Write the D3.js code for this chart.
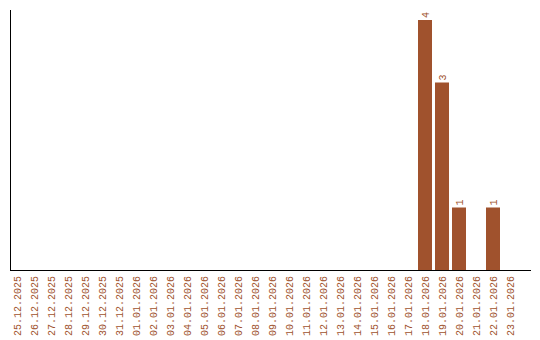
<!DOCTYPE html>
<html>
<head>
<meta charset="utf-8">
<script src="https://cdn.jsdelivr.net/npm/d3@7"></script>
<style>
  body { margin: 0; background: #fff; }
  text { font-family: "Liberation Mono", monospace; }
</style>
</head>
<body>
<div id="chart"></div>
<script>
// dates shown on the x axis
var days = ["25.12.2025","26.12.2025","27.12.2025","28.12.2025","29.12.2025","30.12.2025","31.12.2025",
  "01.01.2026","02.01.2026","03.01.2026","04.01.2026","05.01.2026","06.01.2026","07.01.2026","08.01.2026",
  "09.01.2026","10.01.2026","11.01.2026","12.01.2026","13.01.2026","14.01.2026","15.01.2026","16.01.2026",
  "17.01.2026","18.01.2026","19.01.2026","20.01.2026","21.01.2026","22.01.2026","23.01.2026"];
// count per day
var counts = [0,0,0,0,0,0,0,0,0,0,0,0,0,0,0,0,0,0,0,0,0,0,0,0,4,3,1,0,1,0];

var width = 540, height = 340;
var marginLeft = 10, plotTop = 20, base = 270;
var color = "#a0522d";

var data = days.map(function(d, i) { return {day: d, n: counts[i]}; });

var svg = d3.select("#chart")
  .append("svg")
    .attr("width", width)
    .attr("height", height);

var x = d3.scaleBand()
  .domain(days)
  .range([marginLeft, 517])
  .paddingInner(3 / 17)
  .paddingOuter(0);

var y = d3.scaleLinear()
  .domain([0, 4])
  .range([base, plotTop]);

var nonZero = data.filter(function(d) { return d.n > 0; });

// bars
svg.selectAll(".bar")
  .data(nonZero)
  .enter()
  .append("rect")
    .attr("class", "bar")
    .attr("x", function(d) { return x(d.day); })
    .attr("y", function(d) { return y(d.n); })
    .attr("width", x.bandwidth())
    .attr("height", function(d) { return base - y(d.n); })
    .style("fill", color);

// value labels, rotated
svg.selectAll(".val")
  .data(nonZero)
  .enter()
  .append("text")
    .attr("class", "val")
    .attr("transform", function(d) {
      return "translate(" + (x(d.day) + x.bandwidth() / 2 + 3.5) + "," + (y(d.n) - 2) + ") rotate(-90)";
    })
    .style("font-size", "10px")
    .style("fill", color)
    .text(function(d) { return d.n; });

// x axis labels
svg.append("g")
  .attr("transform", "translate(0," + base + ")")
  .call(d3.axisBottom(x).tickSize(0).tickPadding(0))
  .call(function(g) { g.select(".domain").remove(); })
  .selectAll("text")
    .attr("transform", "rotate(-90)")
    .attr("x", -6)
    .attr("y", 0)
    .attr("dy", "0.35em")
    .style("text-anchor", "end")
    .style("font-size", "10px")
    .style("font-family", "Liberation Mono, monospace")
    .style("fill", color);

// axis lines
svg.append("line")
  .attr("x1", marginLeft + 0.5).attr("x2", marginLeft + 0.5)
  .attr("y1", 10).attr("y2", base)
  .style("stroke", "#000");
svg.append("line")
  .attr("x1", marginLeft).attr("x2", 531)
  .attr("y1", base + 0.5).attr("y2", base + 0.5)
  .style("stroke", "#000");
</script>
</body>
</html>
